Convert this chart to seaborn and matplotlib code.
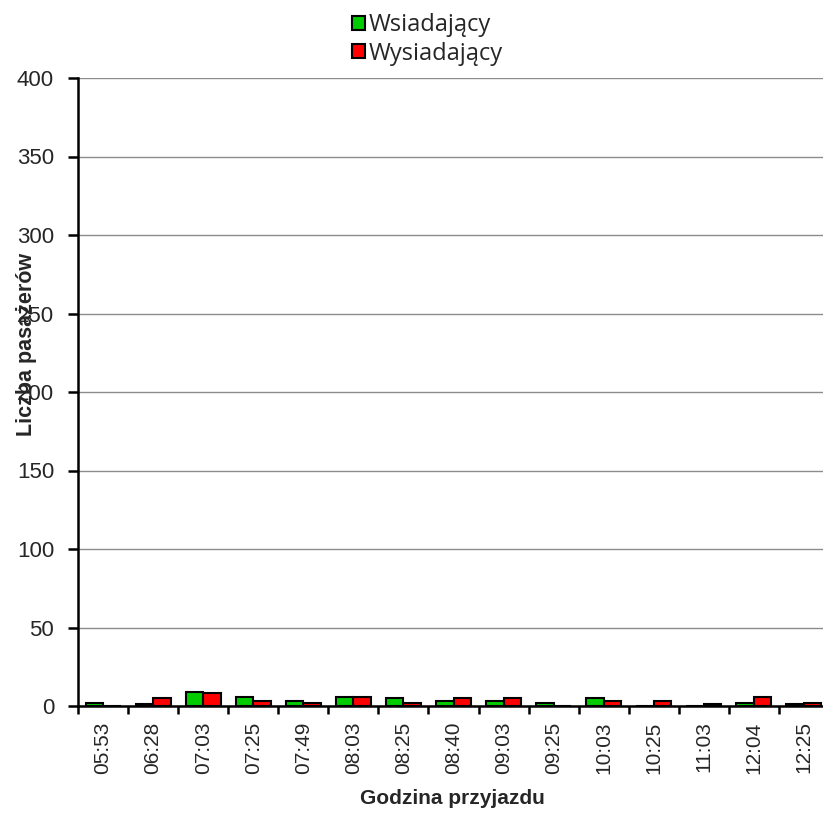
import matplotlib
matplotlib.use("Agg")
import matplotlib.pyplot as plt
import seaborn as sns
import pandas as pd
from matplotlib.ticker import FixedLocator

# Arrival times and passenger counts per stop event
godziny = ['05:53', '06:28', '07:03', '07:25', '07:49', '08:03', '08:25', '08:40',
           '09:03', '09:25', '10:03', '10:25', '11:03', '12:04', '12:25']
wsiadajacy = [2, 1, 9, 6, 3, 6, 5, 3, 3, 2, 5, 0, 0, 2, 1]
wysiadajacy = [0, 5, 8, 3, 2, 6, 2, 5, 5, 0, 3, 3, 1, 6, 2]
serie = ['Wsiadający', 'Wysiadający']
kolory = ['#00CC00', '#FF0000']
y_ticks = [0, 50, 100, 150, 200, 250, 300, 350, 400]

df = pd.DataFrame({
    'godzina': godziny * 2,
    'liczba': wsiadajacy + wysiadajacy,
    'typ': [serie[0]] * len(godziny) + [serie[1]] * len(godziny),
})

sns.set_style("white")
plt.rcParams['font.family'] = ['Liberation Sans', 'DejaVu Sans']

fig = plt.figure(figsize=(8.23, 8.14), dpi=100)
ax = fig.add_axes([78 / 823, 108 / 814, 751 / 823, 628 / 814])

sns.barplot(data=df, x='godzina', y='liczba', hue='typ', order=godziny,
            hue_order=serie, palette=kolory, width=0.70, dodge=True,
            edgecolor='black', linewidth=1.5, saturation=1, ax=ax, zorder=3)

handles, labels = ax.get_legend_handles_labels()
if ax.get_legend() is not None:
    ax.get_legend().remove()

ax.set_xlim(-0.5, len(godziny) - 0.5)
ax.set_ylim(0, 400)
ax.set_yticks(y_ticks)
ax.yaxis.grid(True, color='#8c8c8c', linewidth=1.0, zorder=0)
ax.xaxis.grid(False)

for side in ['top', 'right']:
    ax.spines[side].set_visible(False)
for side in ['left', 'bottom']:
    ax.spines[side].set_color('black')
    ax.spines[side].set_linewidth(1.8)
    ax.spines[side].set_zorder(4)

ax.tick_params(axis='y', which='major', direction='out', length=7.2, width=1.8,
               color='black', labelsize=16, pad=10, left=True)
ax.set_xticks(range(len(godziny)))
ax.set_xticklabels(godziny, rotation=90)
ax.tick_params(axis='x', which='major', length=0, labelsize=15, pad=11)
ax.xaxis.set_minor_locator(FixedLocator([i - 0.5 for i in range(len(godziny) + 1)]))
ax.tick_params(axis='x', which='minor', direction='out', length=6, width=1.8,
               color='black', bottom=True)

ax.set_xlabel('')
ax.set_ylabel('')
fig.text(27 / 823, 1 - 344 / 814, 'Liczba pasażerów', rotation=90, ha='center',
         va='center', fontsize=15.5, fontweight='bold')
fig.text(452 / 823, 1 - 799 / 814, 'Godzina przyjazdu', ha='center', va='center',
         fontsize=15, fontweight='bold')

leg = fig.legend(handles, labels, loc='upper left', bbox_to_anchor=(352 / 823, 1 - 13 / 814),
                 ncol=1, frameon=False, handlelength=0.55, handleheight=0.55,
                 handletextpad=0.15, labelspacing=0.2, borderaxespad=0, borderpad=0,
                 prop={'family': ['Open Sans', 'DejaVu Sans'], 'size': 17})
for h in leg.legend_handles:
    h.set_edgecolor('black')
    h.set_linewidth(1.5)

fig.savefig('out.png', dpi=100)
